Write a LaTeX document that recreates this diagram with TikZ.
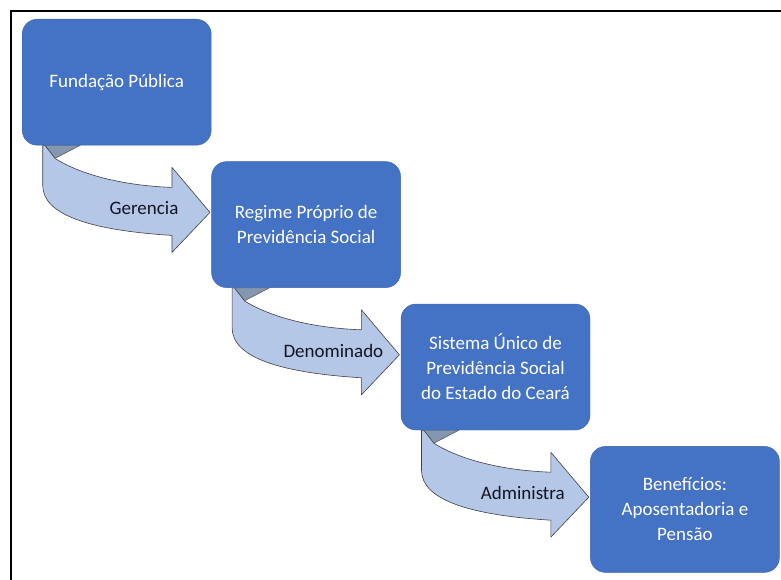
\documentclass[tikz,border=0pt]{standalone}
\usepackage{fontspec}
\setmainfont{Carlito}
\usetikzlibrary{positioning,backgrounds}
\definecolor{boxColor}{RGB}{68,114,196}
\definecolor{boxLine}{RGB}{58,99,173}
\definecolor{shaftColor}{RGB}{180,199,231}
\definecolor{backColor}{RGB}{132,151,176}
\definecolor{labelColor}{RGB}{20,20,35}
\tikzstyle{pixels} = [x = 1pt, y = -1pt]
\tikzstyle{stepBox} = [draw=boxLine, fill=boxColor, rounded corners = 15pt, minimum width = 189pt, minimum height = 126pt, text = white, align = center, font = \fontsize{19}{25}\selectfont, inner sep = 0pt]
\tikzstyle{shaftStyle} = [fill=shaftColor, draw=black!75, line width = .6pt, line join = round]
\tikzstyle{backStyle} = [fill=backColor, draw=black!60, line width = .4pt]
\tikzstyle{arrowText} = [text = labelColor, font = \fontsize{19}{25}\selectfont, inner sep = 0pt]
\tikzstyle{frameLine} = [draw=black, line width = 2.5pt]
\newcommand{\bendArrow}[3]{
  \begin{scope}[shift={(#1.south west)}]
    \fill [backStyle] (23,0) -- (58,0) -- (33,13) -- cycle;
    \filldraw [shaftStyle] (20.7,0) -- (20.7,40) .. controls (20.7,70) and (70,85) .. (150,90) -- (150,107) -- (188,67) -- (150,22) -- (150,42) .. controls (95,40) and (55,27) .. (33,13) -- (23,0) -- cycle;
    \draw [backStyle, fill=none] (58,0) -- (33,13);
    \node [arrowText] (#2) at (122,63) {#3};
  \end{scope}
}
\begin{document}
\begin{tikzpicture}[pixels]
  \useasboundingbox (0,0) rectangle (781,580);
  \draw [frameLine] (11,11) rectangle (800,600);

  \node [stepBox, anchor = north west] (fundacao) at (22,19) {Fundação Pública};
  \node [stepBox, below right = 16pt and 0pt of fundacao.south east, anchor = north west] (regime) {Regime Próprio de\\Previdência Social};
  \node [stepBox, below right = 16pt and 0pt of regime.south east, anchor = north west] (sistema) {Sistema Único de\\Previdência Social\\do Estado do Ceará};
  \node [stepBox, below right = 16pt and 0pt of sistema.south east, anchor = north west] (beneficios) {Benefícios:\\Aposentadoria e\\Pensão};

  \begin{pgfonlayer}{background}
    \bendArrow{fundacao}{gerencia}{Gerencia}
    \bendArrow{regime}{denominado}{Denominado}
    \bendArrow{sistema}{administra}{Administra}
  \end{pgfonlayer}
\end{tikzpicture}
\end{document}
